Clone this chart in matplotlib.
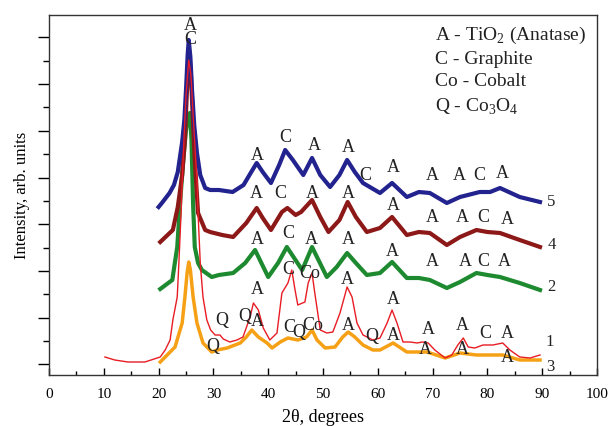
import matplotlib
matplotlib.use("Agg")
import matplotlib.pyplot as plt
from matplotlib.ticker import MultipleLocator, FixedLocator

plt.rcParams['font.family'] = ['Liberation Serif', 'DejaVu Serif']
plt.rcParams['mathtext.fontset'] = 'custom'
plt.rcParams['mathtext.rm'] = 'Liberation Serif'

# ---- data (y in arbitrary intensity units, offsets included) ----
x5 = [20, 20.6, 22, 22.8, 23.5, 24.3, 24.7, 25, 25.3, 25.5, 25.8, 26.1, 26.5, 27, 27.6, 28.5, 29.4,
      31, 33.5, 35.5, 36.8, 37.9, 39, 40.5, 42, 43.1, 44.5, 46.4, 48, 49.5, 51.3, 53, 54.4,
      55.8, 57.3, 60.4, 62.6, 65.3, 67.5, 69.5, 72.6, 75, 78.6, 80.5, 82.3, 85.9, 89.6]
y5 = [168, 172, 182, 190, 203, 233, 255, 285, 320, 335, 318, 285, 250, 222, 200, 187, 185,
      185, 183, 190, 202, 212, 203, 192, 210, 225, 215, 200, 217, 200, 188, 200, 215,
      203, 192, 182, 192, 178, 183, 182, 172, 178, 183, 183, 187, 178, 173]

x4 = [20.3, 22.6, 23.5, 24.3, 24.8, 25.1, 25.4, 25.6, 25.9, 26.2, 26.6, 27.2, 28.5, 29.4, 31.6,
      33.6, 36, 37.9, 39, 40.5, 42.5, 43.5, 45, 46, 48, 49.5, 51, 53, 54.5, 56, 58, 60.4, 62.6,
      65.3, 67.5, 69.5, 72.6, 75, 78, 80, 82.3, 85.9, 89.6]
y4 = [133, 145, 168, 200, 235, 275, 312, 323, 300, 262, 215, 162, 145, 143, 140,
      138, 152, 167, 157, 145, 163, 167, 160, 163, 175, 158, 143, 155, 173, 158, 143, 147, 158,
      140, 143, 142, 130, 138, 145, 143, 142, 135, 128]

x2 = [20.3, 22.5, 23.4, 24, 24.5, 25, 25.4, 25.7, 26, 26.3, 26.6, 27.2, 27.9, 29.7, 31, 33.6,
      35.8, 37.6, 40, 41.8, 43.4, 46.2, 48, 50.7, 52.5, 54.4, 56, 58, 60.4, 62.6, 65.3, 67.5,
      69.5, 72.6, 75, 78, 80, 82.3, 85.9, 89.6]
y2 = [86, 95, 128, 178, 215, 245, 260, 262, 235, 170, 128, 112, 105, 98, 100, 102,
      112, 125, 98, 112, 128, 105, 128, 98, 108, 122, 112, 100, 102, 113, 97, 97,
      95, 87, 93, 102, 100, 98, 92, 85]

x1 = [10.2, 12, 14.4, 17.5, 20.3, 21.2, 22.1, 22.6, 23.4, 23.7, 24.1, 24.5, 25, 25.5, 25.9, 26.4,
      27, 27.2, 27.6, 28.1, 28.8, 29.5, 30.3, 31.2, 31.8, 33, 34.3, 35.4, 36.7, 37.3, 38.2,
      39.1, 40.3, 41.6, 42.5, 43.6, 44.3, 44.9, 45.4, 46.7, 47.3, 48, 48.5, 49.5, 50.7, 51.8,
      53.1, 54.4, 55.3, 56.2, 57.3, 59.1, 60.4, 61.7, 62.6, 63.5, 64.6, 65.9, 67.2, 68.1,
      69.2, 70.4, 72.3, 73.5, 74.6, 75.6, 76.5, 77.7, 79.2, 81, 82.8, 84.1, 85.9, 87.8, 89.6]
y1 = [18, 15, 13, 13, 18, 25, 35, 55, 78, 112, 162, 220, 280, 315, 300, 250,
      195, 162, 112, 78, 55, 45, 40, 40, 36, 33, 35, 38, 58, 72, 65,
      47, 35, 42, 82, 92, 105, 85, 70, 73, 92, 102, 82, 45, 42, 43,
      62, 88, 78, 52, 40, 35, 37, 52, 65, 52, 33, 33, 32, 33,
      32, 25, 17, 20, 30, 37, 28, 27, 30, 30, 32, 25, 18, 17, 20]

x3 = [20.3, 21.2, 23, 24.3, 24.8, 25.2, 25.5, 25.8, 26.3, 27, 28.1, 29.7, 30.7, 32.5, 34.9, 36,
      37, 38.2, 39.8, 40.7, 42.2, 43.6, 45.4, 47, 48, 48.9, 50.4, 52.2, 53.6, 54.6, 55.8,
      57.3, 59.1, 60.4, 62.8, 65.3, 69, 72.3, 75, 78, 81, 82.8, 85.9, 89.6]
y3 = [13, 18, 28, 52, 78, 102, 113, 105, 78, 52, 32, 23, 25, 27, 32, 38,
      45, 38, 32, 27, 33, 37, 35, 38, 45, 35, 27, 28, 38, 43, 38,
      30, 25, 25, 32, 23, 23, 17, 22, 20, 20, 20, 15, 15]

# peak labels: (text, x, y)
labels_top = [("A", 25.7, 350), ("C", 25.7, 335)]
labels5 = [("A", 38.1, 220), ("C", 43.1, 238), ("A", 48.4, 230), ("A", 54.7, 227), ("C", 57.7, 200),
           ("A", 62.8, 208), ("A", 69.9, 200), ("A", 74.8, 200), ("C", 78.5, 200), ("A", 82.8, 202)]
labels4 = [("A", 37.8, 182), ("C", 42.2, 182), ("A", 48, 182), ("A", 54.6, 182), ("A", 62.8, 170),
           ("A", 69.9, 157), ("A", 75.5, 157), ("C", 79.2, 157), ("A", 83.6, 155)]
labels2 = [("A", 38, 135), ("C", 43.6, 142), ("A", 47.8, 136), ("A", 54.6, 136), ("A", 62.6, 123),
           ("A", 69.9, 113), ("A", 75.9, 113), ("C", 79.2, 113), ("A", 83, 113)]
labels1 = [("A", 38, 85), ("C", 43.6, 105), ("Co", 47.5, 102), ("A", 54.4, 95), ("Q", 31.6, 55),
           ("Q", 35.7, 58), ("A", 62.8, 75), ("A", 69.2, 45), ("A", 75.4, 50), ("C", 79.6, 42),
           ("A", 83.6, 42)]
labels3 = [("Q", 29.9, 28), ("A", 38.0, 53), ("C", 43.8, 48), ("Q", 45.6, 42), ("Co", 48.1, 50),
           ("A", 54.6, 50), ("Q", 58.9, 38), ("A", 62.8, 40), ("A", 68.6, 25), ("A", 75.5, 25),
           ("A", 83.6, 17)]
curve_ids = [("5", 90.9, 173), ("4", 90.9, 130), ("2", 90.9, 88), ("1", 90.6, 33), ("3", 90.8, 8)]
legend_lines = [(r"A - TiO$_{\mathregular{2}}$ (Anatase)", 340), ("C - Graphite", 315),
                ("Co - Cobalt", 293), (r"Q - Co$_{\mathregular{3}}$O$_{\mathregular{4}}$", 268)]

fig = plt.figure(figsize=(6.08, 4.26), dpi=100)
ax = fig.add_axes([49/608, 51/426, 548/608, 360/426])

ax.plot(x3, y3, color='#f5a015', lw=2.5, zorder=2)
ax.plot(x2, y2, color='#1e8a30', lw=3.0, zorder=3)
ax.plot(x4, y4, color='#8c1818', lw=3.0, zorder=4)
ax.plot(x5, y5, color='#23238f', lw=3.0, zorder=5)
ax.plot(x1, y1, color='#e81c24', lw=1.0, zorder=6)

fs = 13
for group in (labels_top, labels5, labels4, labels2, labels1, labels3):
    for t, xx, yy in group:
        ax.text(xx, yy, t, ha='center', va='center', fontsize=fs, color='#222222', zorder=8)
for t, xx, yy in curve_ids:
    ax.text(xx, yy, t, ha='left', va='center', fontsize=12, color='#222222')
for t, yy in legend_lines:
    ax.text(70.4, yy, t, ha='left', va='center', fontsize=14, color='#222222')

ax.set_xlim(0, 100)
ax.set_ylim(0, 360)
ax.xaxis.set_major_locator(MultipleLocator(10))
ax.xaxis.set_minor_locator(MultipleLocator(5))
ax.yaxis.set_major_locator(FixedLocator([10.7 + 46.7 * k for k in range(8)]))
ax.yaxis.set_minor_locator(FixedLocator([34.05 + 46.7 * k for k in range(7)]))
ax.tick_params(axis='x', which='major', direction='in', length=5, width=1, labelsize=11, pad=9)
ax.tick_params(axis='x', which='minor', direction='in', length=3, width=1)
ax.tick_params(axis='y', which='major', direction='out', length=8, width=1, labelleft=False)
ax.tick_params(axis='y', which='minor', direction='out', length=4, width=1)
for s in ax.spines.values():
    s.set_linewidth(1.0)
    s.set_color('#333333')
ax.set_xlabel("2θ, degrees", fontsize=13, labelpad=6)
ax.set_ylabel("Intensity, arb. units", fontsize=12, labelpad=6)

fig.savefig("out.png", dpi=100)
